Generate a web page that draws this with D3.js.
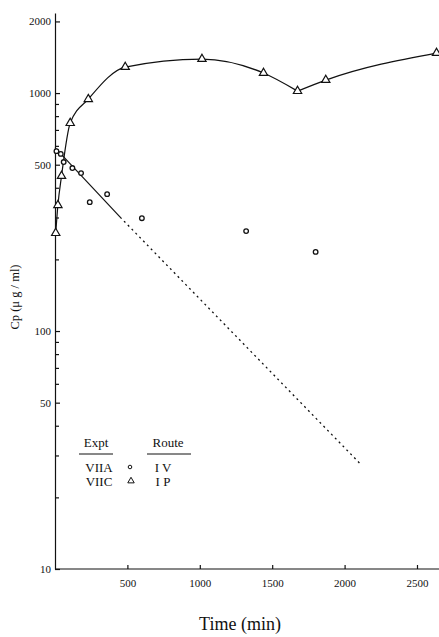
<!DOCTYPE html>
<html>
<head>
<meta charset="utf-8">
<script src="https://cdn.jsdelivr.net/npm/d3@7"></script>
<style>
	body { margin: 0; background: #fff; }
	svg text { font-family: "Liberation Serif", "DejaVu Serif", serif; fill: #111; }
	.axis path, .axis line { stroke: #111; stroke-width: 1.2; }
	.axis text { font-size: 11px; }
</style>
</head>
<body>
<svg id="chart" width="439" height="637"></svg>
<script>
// VIIA, i.v. route (circles)
var ivTimes = [10, 40, 60, 120, 180, 240, 360, 600, 1320, 1800];
var ivConc = [570, 555, 513, 484, 461, 348, 376, 298, 263, 215];

// VIIC, i.p. route (triangles)
var ipTimes = [5, 20, 45, 105, 230, 485, 1015, 1440, 1675, 1870, 2635];
var ipConc = [258, 338, 448, 748, 943, 1286, 1390, 1214, 1019, 1134, 1473];

// straight fit for the i.v. data, solid then dashed
var ivFitTimes = [0, 450, 2110];
var ivFitConc = [590, 301, 27.6];

var xTicks = [500, 1000, 1500, 2000, 2500];
var yTicks = [10, 50, 100, 500, 1000, 2000];
var yMinorTicks = [20, 30, 40, 60, 70, 80, 90, 200, 300, 400, 600, 700, 800, 900];

var legendExpt = ["VIIA", "VIIC"];
var legendRoute = ["I  V", "I  P"];

var svg = d3.select('#chart');

var x = d3.scaleLinear().domain([0, 2652]).range([55, 439]);
var y = d3.scaleLog().domain([10, 2170]).range([569, 13]);

var iv = ivTimes.map(function(t, i) { return {t: t, c: ivConc[i]}; });
var ip = ipTimes.map(function(t, i) { return {t: t, c: ipConc[i]}; });
var ivFit = ivFitTimes.map(function(t, i) { return {t: t, c: ivFitConc[i]}; });

// axes, ticks pointing inward
svg.append('g')
	.attr('class', 'axis')
	.attr('transform', 'translate(0,569)')
	.call(d3.axisBottom(x).tickValues(xTicks).tickFormat(d3.format('d')).tickSize(-4).tickPadding(10).tickSizeOuter(0))
	.call(function(g) { g.select('.domain').attr('d', 'M55,0H439'); });

svg.append('g')
	.attr('class', 'axis')
	.attr('transform', 'translate(55,0)')
	.call(d3.axisLeft(y).tickValues(yTicks).tickFormat(d3.format('d')).tickSize(-5).tickPadding(5).tickSizeOuter(0))
	.call(function(g) { g.selectAll('text').attr('x', -4); });

svg.append('g')
	.attr('class', 'axis')
	.attr('transform', 'translate(55,0)')
	.call(d3.axisLeft(y).tickValues(yMinorTicks).tickFormat('').tickSize(-4).tickSizeOuter(0))
	.call(function(g) { g.select('.domain').remove(); });

// axis titles
svg.append('text')
	.attr('x', 240)
	.attr('y', 630)
	.attr('text-anchor', 'middle')
	.style('font-size', '18px')
	.text('Time (min)');

svg.append('text')
	.attr('transform', 'translate(19,297) rotate(-90)')
	.attr('text-anchor', 'middle')
	.style('font-size', '12.5px')
	.text('Cp (\u03bc g / ml)');

// fitted lines
var line = d3.line()
	.x(function(d) { return x(d.t); })
	.y(function(d) { return y(d.c); });

svg.append('path')
	.datum(ivFit.slice(0, 2))
	.attr('d', line)
	.attr('fill', 'none')
	.attr('stroke', '#111')
	.attr('stroke-width', 1.2);

svg.append('path')
	.datum(ivFit.slice(1))
	.attr('d', line)
	.attr('fill', 'none')
	.attr('stroke', '#111')
	.attr('stroke-width', 1.3)
	.attr('stroke-dasharray', '2,3.5');

// the i.p. curve has a cusp at the 1675 min point
var curve = d3.line()
	.x(function(d) { return x(d.t); })
	.y(function(d) { return y(d.c); })
	.curve(d3.curveMonotoneX);

[ip.slice(0, 9), ip.slice(8)].forEach(function(part) {
	svg.append('path')
		.datum(part)
		.attr('d', curve)
		.attr('fill', 'none')
		.attr('stroke', '#111')
		.attr('stroke-width', 1.2);
});

// points
var triangle = d3.symbol().type(d3.symbolTriangle).size(30);

svg.selectAll('.ivPoint')
	.data(iv).enter().append('circle')
	.attr('class', 'ivPoint')
	.attr('cx', function(d) { return x(d.t); })
	.attr('cy', function(d) { return y(d.c); })
	.attr('r', 2.3)
	.attr('fill', '#fff')
	.attr('stroke', '#111')
	.attr('stroke-width', 1.3);

svg.selectAll('.ipPoint')
	.data(ip).enter().append('path')
	.attr('class', 'ipPoint')
	.attr('d', triangle)
	.attr('transform', function(d) { return 'translate(' + x(d.t) + ',' + y(d.c) + ')'; })
	.attr('fill', '#fff')
	.attr('stroke', '#111')
	.attr('stroke-width', 1.2);

// legend
var legend = svg.append('g').style('font-size', '13px');

legend.append('text').attr('x', 96).attr('y', 447).attr('text-anchor', 'middle').text('Expt');
legend.append('text').attr('x', 168).attr('y', 447).attr('text-anchor', 'middle').text('Route');
legend.append('line').attr('x1', 79).attr('x2', 113).attr('y1', 454).attr('y2', 454).attr('stroke', '#111');
legend.append('line').attr('x1', 147).attr('x2', 191).attr('y1', 454).attr('y2', 454).attr('stroke', '#111');

legendExpt.forEach(function(name, i) {
	legend.append('text').attr('x', 99).attr('y', 472 + i * 14).attr('text-anchor', 'middle').text(name);
	legend.append('text').attr('x', 163).attr('y', 472 + i * 14).attr('text-anchor', 'middle').text(legendRoute[i]);
});

legend.append('circle').attr('cx', 130).attr('cy', 467).attr('r', 1.8)
	.attr('fill', '#fff').attr('stroke', '#111').attr('stroke-width', 1);
legend.append('path').attr('d', d3.symbol().type(d3.symbolTriangle).size(18))
	.attr('transform', 'translate(131,481)')
	.attr('fill', '#fff').attr('stroke', '#111').attr('stroke-width', 1);
</script>
</body>
</html>
